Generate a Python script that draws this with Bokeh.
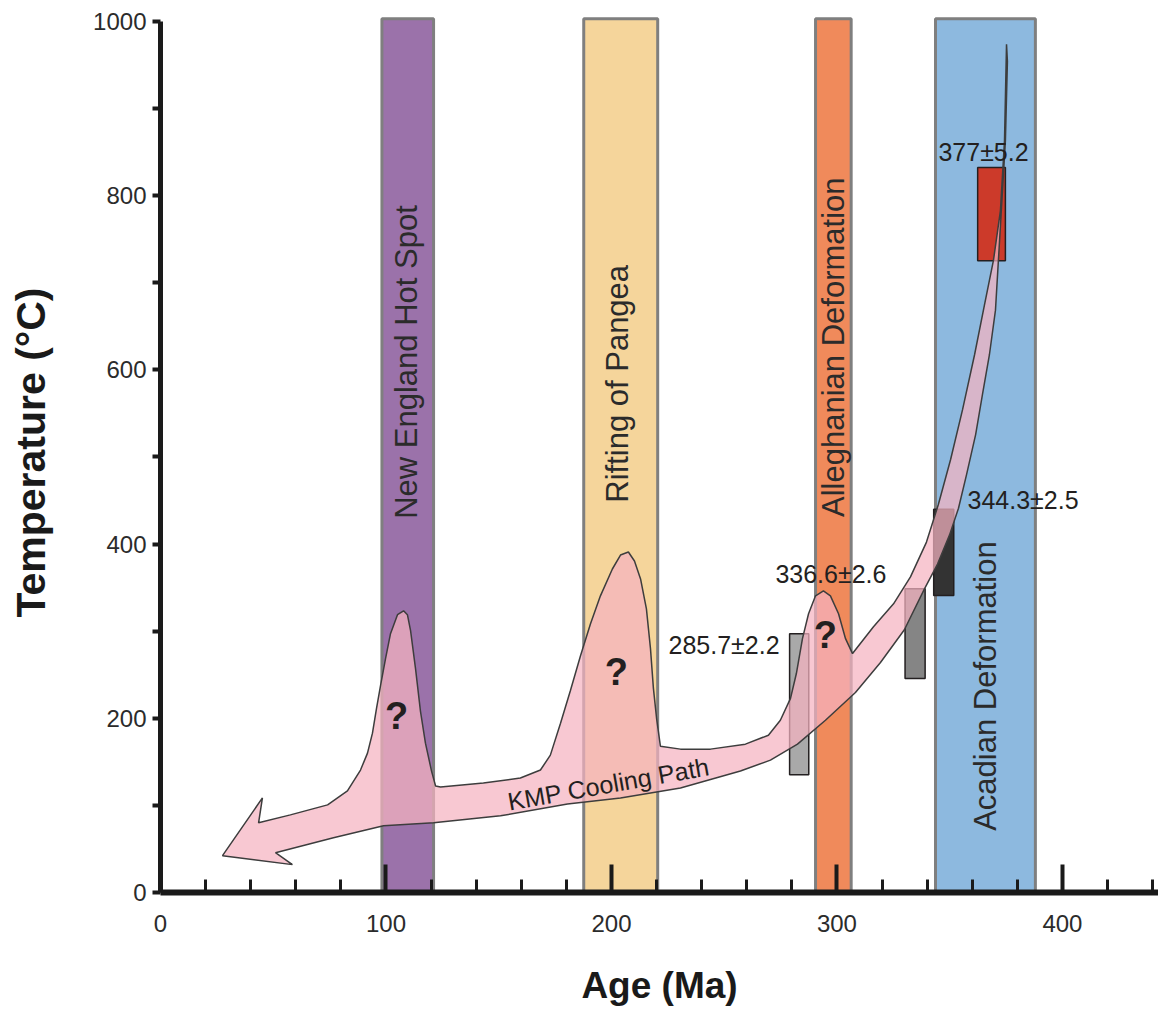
import math
from bokeh.plotting import figure
from bokeh.models import Range1d, FixedTicker
from bokeh.core.properties import value
from bokeh.embed import file_html
from bokeh.resources import INLINE

FONT = "Liberation Sans"

# ---- tectonic event bands (Age in Ma) ----
band_names = ["New England Hot Spot", "Rifting of Pangea", "Alleghanian Deformation", "Acadian Deformation"]
band_start = [98.2, 187.7, 290.5, 343.7]
band_end = [121.1, 220.5, 306.3, 388.0]
band_top = [1003, 1003, 1003, 1003]
band_colors = ["#9b72aa", "#f5d59b", "#f08a5b", "#8db9df"]
band_label_age = [109.1, 202.7, 298.4, 365.9]
band_label_temp = [609, 584, 626, 237]

# ---- age constraint boxes ----
box_labels = ["285.7±2.2", "336.6±2.6", "344.3±2.5", "377±5.2"]
box_left = [279.0, 330.2, 342.9, 362.4]
box_right = [287.5, 339.1, 351.8, 374.7]
box_bottom = [135.2, 245.7, 341.0, 725.3]
box_top = [297.1, 348.6, 440.0, 832.3]
box_colors = ["#a9a9a9", "#858585", "#333333", "#cc3a2a"]
label_age = [225.3, 272.7, 357.9, 345.0]
label_temp = [284.6, 365.7, 450.3, 850.3]

# ---- KMP cooling path outline (Age, Temperature) ----
path_age = [375.2, 374.3, 372.5, 369.4, 365.4, 361.0, 355.7, 350.4, 345.0, 339.7, 332.6, 325.1, 316.2,
            306.9, 303.8, 300.7, 297.1, 294.0, 290.5, 287.4, 284.7, 282.0, 279.4, 274.9, 269.6, 259.4,
            243.9, 230.6, 221.7, 220.0, 218.6, 217.3, 215.5, 212.9, 210.2, 207.5, 204.0, 200.4, 195.1,
            190.7, 186.3, 181.8, 177.4, 172.9, 168.5, 159.6, 143.2, 124.2, 122.0, 120.2, 117.5, 115.3,
            113.1, 110.9, 109.5, 107.8, 105.1, 102.0, 99.8, 97.6, 95.8, 94.0, 91.8, 88.7, 82.9, 74.1,
            57.6, 43.5, 45.2, 27.5, 58.5, 51.0,
            76.7, 98.9, 121.1, 150.8, 180.5, 204.0, 230.6, 257.2, 270.5, 282.5, 294.9, 308.2, 319.3,
            329.9, 338.8, 344.6, 349.9, 353.9, 357.5, 361.5, 364.5, 367.6, 370.3, 372.9, 374.7, 375.6]
path_temp = [973.7, 862.9, 782.9, 725.7, 674.3, 617.1, 554.3, 497.1, 445.7, 402.3, 362.3, 331.4, 305.1,
             274.3, 291.4, 320.0, 340.6, 346.3, 340.6, 320.0, 291.4, 251.4, 222.9, 197.7, 180.6, 170.3,
             164.6, 164.6, 168.0, 200.0, 234.3, 280.0, 325.7, 360.0, 380.6, 390.9, 387.4, 371.4, 340.6,
             308.6, 272.0, 232.0, 194.3, 157.7, 140.6, 131.4, 125.7, 121.1, 122.3, 139.4, 171.4, 208.0,
             257.1, 300.6, 318.9, 323.4, 318.9, 297.1, 268.6, 237.7, 211.4, 182.9, 160.0, 140.6, 116.6,
             100.6, 89.1, 80.0, 108.6, 42.3, 32.0, 45.7,
             62.9, 76.6, 80.0, 88.0, 101.7, 108.6, 120.0, 139.4, 152.0, 170.3, 197.7, 229.7, 264.0,
             301.7, 348.6, 377.1, 410.3, 441.1, 480.0, 525.7, 571.4, 617.1, 668.6, 782.9, 862.9, 954.3]

# ---- question marks on the uncertain excursions ----
q_age = [104.7, 202.2, 294.9]
q_temp = [202.3, 252.6, 296.0]

path_label = "KMP Cooling Path"
path_label_age = [198.7]
path_label_temp = [124.6]

x_ticks = [0, 100, 200, 300, 400]
x_minor = [20, 40, 60, 80, 120, 140, 160, 180, 220, 240, 260, 280, 320, 340, 360, 380, 420, 440]
y_ticks = [0, 200, 400, 600, 800, 1000]
y_minor = [100, 300, 500, 700, 900]

p = figure(width=1158, height=1008, output_backend="svg", toolbar_location=None,
           x_range=Range1d(0, 442.6), y_range=Range1d(0, 1010.3),
           min_border_left=160, min_border_right=0, min_border_top=12, min_border_bottom=112)
p.xgrid.visible = False
p.ygrid.visible = False
p.outline_line_color = None
p.background_fill_color = "white"

# bands
p.quad(left=band_start, right=band_end, bottom=[0] * 4, top=band_top,
       fill_color=band_colors, line_color="#7f7f7f", line_width=3)

# boxes
p.quad(left=box_left, right=box_right, bottom=box_bottom, top=box_top,
       fill_color=box_colors, line_color="#231f20", line_width=1.5)

# cooling path ribbon
p.patch(path_age, path_temp, fill_color="#f5b3c0", fill_alpha=0.72,
        line_color="#3d3d3d", line_width=1.5)

# band labels (rotated)
p.text(x=band_label_age, y=band_label_temp, text=band_names, angle=math.pi / 2,
       text_align="center", text_baseline="middle", text_font=value(FONT),
       text_font_size="31px", text_color="#2b2b2b")

# age labels
p.text(x=label_age, y=label_temp, text=box_labels, text_align="left", text_baseline="middle",
       text_font=value(FONT), text_font_size="25px", text_color="#231f20")

# question marks
p.text(x=q_age, y=q_temp, text=["?"] * 3, text_align="center", text_baseline="middle",
       text_font=value(FONT), text_font_size="38px", text_font_style="bold", text_color="#231f20")

# path label
p.text(x=path_label_age, y=path_label_temp, text=[path_label], angle=math.radians(10),
       text_align="center", text_baseline="middle", text_font=value(FONT),
       text_font_size="25px", text_color="#231f20")

# axes
xa = p.xaxis[0]
xa.ticker = FixedTicker(ticks=x_ticks, minor_ticks=x_minor)
xa.bounds = (0, 442.6)
xa.axis_line_width = 6
xa.axis_line_color = "#1a1a1a"
xa.major_tick_in = 28
xa.major_tick_out = 0
xa.minor_tick_in = 13
xa.minor_tick_out = 0
xa.major_tick_line_width = 4
xa.minor_tick_line_width = 3
xa.major_tick_line_color = "#1a1a1a"
xa.minor_tick_line_color = "#1a1a1a"
xa.major_label_standoff = 22
xa.major_label_text_font = FONT
xa.major_label_text_font_size = "24px"
xa.major_label_text_color = "#2b2b2b"
xa.axis_label = "Age (Ma)"
xa.axis_label_text_font = FONT
xa.axis_label_text_font_style = "bold"
xa.axis_label_text_font_size = "37px"
xa.axis_label_text_color = "#1a1a1a"
xa.axis_label_standoff = 30

ya = p.yaxis[0]
ya.ticker = FixedTicker(ticks=y_ticks, minor_ticks=y_minor)
ya.bounds = (0, 1000)
ya.axis_line_width = 5
ya.axis_line_color = "#1a1a1a"
ya.major_tick_in = 0
ya.major_tick_out = 8
ya.minor_tick_in = 0
ya.minor_tick_out = 8
ya.major_tick_line_width = 4
ya.minor_tick_line_width = 4
ya.major_tick_line_color = "#1a1a1a"
ya.minor_tick_line_color = "#1a1a1a"
ya.major_label_standoff = 6
ya.major_label_text_font = FONT
ya.major_label_text_font_size = "24px"
ya.major_label_text_color = "#2b2b2b"
ya.axis_label = "Temperature (°C)"
ya.axis_label_text_font = FONT
ya.axis_label_text_font_style = "bold"
ya.axis_label_text_font_size = "41px"
ya.axis_label_text_color = "#1a1a1a"
ya.axis_label_standoff = 36

open("out.html", "w").write(file_html(p, INLINE))
